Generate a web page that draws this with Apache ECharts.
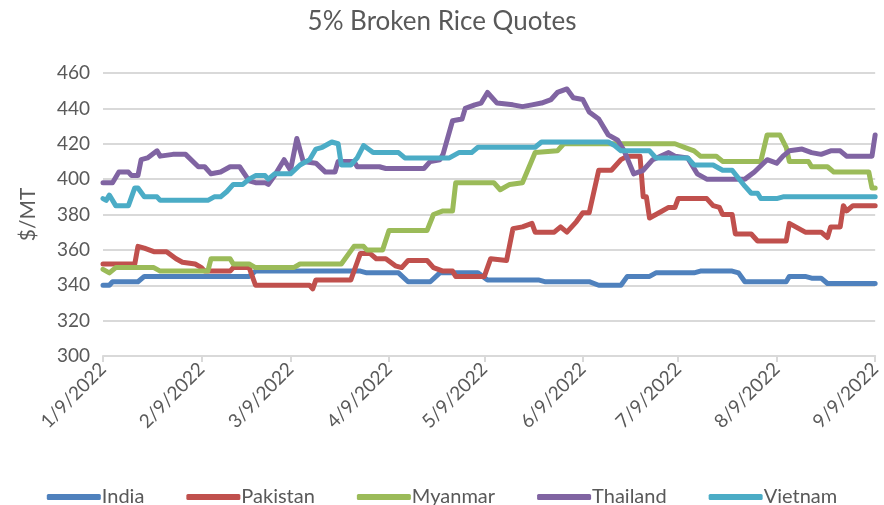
<!DOCTYPE html>
<html>
<head>
<meta charset="utf-8">
<script src="https://cdn.jsdelivr.net/npm/echarts@6/dist/echarts.min.js"></script>
<style>
  html, body { margin: 0; padding: 0; background: #fff; }
  #chart { width: 884px; height: 505px; }
</style>
</head>
<body>
<div id="chart"></div>
<script>
// tick labels on the x axis (M/D/YYYY)
const monthTicks = ['1/9/2022', '2/9/2022', '3/9/2022', '4/9/2022', '5/9/2022',
  '6/9/2022', '7/9/2022', '8/9/2022', '9/9/2022'];
const seriesNames = ['India', 'Pakistan', 'Myanmar', 'Thailand', 'Vietnam'];
const yTicks = [300, 320, 340, 360, 380, 400, 420, 440, 460];

// quote dates (M/D, 2022) and prices in $/MT
const indiaDates = ['1/9', '1/11', '1/12', '1/20', '1/22', '2/24', '2/26', '3/31', '4/2', '4/12',
  '4/15', '4/22', '4/25', '5/7', '5/10', '5/26', '5/28', '6/11', '6/14', '6/21', '6/23', '6/30',
  '7/2', '7/14', '7/16', '7/26', '7/28', '7/30', '8/12', '8/13', '8/18', '8/20', '8/23', '8/25', '9/9'];
const indiaValues = [340, 340, 342, 342, 345, 345, 348, 348, 347, 347,
  342, 342, 347, 347, 343, 343, 342, 342, 340, 340, 345, 345,
  347, 347, 348, 348, 347, 342, 342, 345, 345, 344, 344, 341, 341];

const pakistanDates = ['1/9', '1/19', '1/20', '1/22', '1/25', '1/29', '2/1', '2/3', '2/7', '2/9',
  '2/10', '2/18', '2/19', '2/24', '2/26', '3/15', '3/16', '3/17', '3/28', '3/30', '3/31', '4/3',
  '4/5', '4/8', '4/11', '4/13', '4/15', '4/21', '4/23', '4/26', '4/29', '4/30', '5/9', '5/11',
  '5/16', '5/18', '5/21', '5/24', '5/25', '5/31', '6/2', '6/4', '6/7', '6/9', '6/11', '6/14',
  '6/18', '6/21', '6/23', '6/27', '6/28', '6/29', '6/30', '7/3', '7/6', '7/8', '7/9', '7/18',
  '7/20', '7/22', '7/23', '7/26', '7/27', '8/1', '8/3', '8/12', '8/13', '8/15', '8/18', '8/23',
  '8/25', '8/26', '8/29', '8/30', '8/31', '9/2', '9/9'];
const pakistanValues = [352, 352, 362, 361, 359, 359, 355, 353, 352, 350,
  348, 348, 350, 350, 340, 340, 338, 343, 343, 353, 358, 358,
  355, 355, 351, 350, 354, 354, 350, 348, 348, 345, 345, 355,
  354, 372, 373, 375, 370, 370, 373, 370, 376, 381, 381, 405,
  405, 411, 413, 413, 390, 390, 378, 381, 384, 384, 389, 389,
  385, 384, 380, 380, 369, 369, 365, 365, 375, 373, 370, 370,
  367, 373, 373, 385, 382, 385, 385];

const myanmarDates = ['1/9', '1/11', '1/13', '1/25', '1/27', '2/11', '2/12', '2/18', '2/19', '2/24',
  '2/26', '3/10', '3/12', '3/25', '3/29', '4/1', '4/2', '4/7', '4/9', '4/21', '4/23', '4/26',
  '4/29', '4/30', '5/12', '5/14', '5/17', '5/21', '5/25', '6/1', '6/3', '7/8', '7/11', '7/14',
  '7/16', '7/21', '7/23', '8/4', '8/6', '8/10', '8/12', '8/13', '8/19', '8/20', '8/25', '8/27',
  '9/7', '9/8', '9/9'];
const myanmarValues = [349, 347, 350, 350, 348, 348, 355, 355, 352, 352,
  350, 350, 352, 352, 362, 362, 360, 360, 371, 371, 380, 382,
  382, 398, 398, 394, 397, 398, 415, 416, 420, 420, 418, 416,
  413, 413, 410, 410, 425, 425, 418, 410, 410, 407, 407, 404,
  404, 395, 395];

const thailandDates = ['1/9', '1/12', '1/14', '1/17', '1/18', '1/20', '1/21', '1/23', '1/26', '1/27',
  '1/31', '2/4', '2/8', '2/10', '2/12', '2/15', '2/18', '2/21', '2/24', '2/26', '3/1', '3/2',
  '3/4', '3/7', '3/9', '3/11', '3/13', '3/17', '3/20', '3/23', '3/24', '3/29', '3/30', '4/6',
  '4/8', '4/20', '4/22', '4/25', '4/26', '4/29', '5/2', '5/3', '5/6', '5/8', '5/10', '5/13',
  '5/18', '5/21', '5/24', '5/27', '5/30', '6/1', '6/4', '6/6', '6/9', '6/11', '6/14', '6/16',
  '6/17', '6/20', '6/22', '6/25', '6/28', '7/1', '7/6', '7/8', '7/12', '7/15', '7/18', '7/30',
  '8/2', '8/6', '8/9', '8/11', '8/13', '8/17', '8/20', '8/23', '8/26', '8/29', '8/31', '9/8', '9/9'];
const thailandValues = [398, 398, 404, 404, 402, 402, 411, 412, 416, 413,
  414, 414, 407, 407, 403, 404, 407, 407, 399, 398, 398, 397,
  402, 411, 405, 423, 410, 409, 404, 404, 410, 410, 407, 407,
  406, 406, 410, 411, 414, 433, 434, 440, 442, 443, 449, 443,
  442, 441, 442, 443, 445, 449, 451, 446, 445, 438, 434, 428,
  425, 422, 416, 403, 405, 411, 415, 413, 412, 403, 400, 400,
  404, 411, 409, 413, 416, 417, 415, 414, 416, 416, 413, 413, 425];

const vietnamDates = ['1/9', '1/10', '1/11', '1/13', '1/17', '1/19', '1/20', '1/22', '1/26', '1/27',
  '2/11', '2/13', '2/15', '2/17', '2/19', '2/22', '2/24', '2/26', '3/1', '3/2', '3/4', '3/9',
  '3/12', '3/15', '3/17', '3/19', '3/22', '3/24', '3/25', '3/28', '3/30', '4/1', '4/4', '4/12',
  '4/14', '4/28', '5/1', '5/5', '5/7', '5/25', '5/27', '6/17', '6/19', '6/21', '6/30', '7/2',
  '7/12', '7/14', '7/20', '7/23', '7/26', '7/30', '8/1', '8/3', '8/4', '8/9', '8/11', '9/9'];
const vietnamValues = [389, 388, 391, 385, 385, 395, 395, 390, 390, 388,
  388, 390, 390, 393, 397, 397, 400, 402, 402, 400, 403, 403,
  408, 411, 417, 418, 421, 420, 408, 408, 412, 419, 415, 415,
  412, 412, 415, 415, 418, 418, 421, 421, 419, 416, 416, 412,
  412, 408, 408, 405, 405, 396, 392, 392, 389, 389, 390, 390];

const colors = ['#4F81BD', '#C0504D', '#9BBB59', '#8064A2', '#4BACC6'];

function toTime(md) {
  const p = md.split('/');
  return +new Date(2022, Number(p[0]) - 1, Number(p[1]));
}

function pairs(dates, values) {
  return dates.map((d, i) => [toTime(d), values[i]]);
}

const seriesData = [
  pairs(indiaDates, indiaValues),
  pairs(pakistanDates, pakistanValues),
  pairs(myanmarDates, myanmarValues),
  pairs(thailandDates, thailandValues),
  pairs(vietnamDates, vietnamValues),
];

const tickTimes = monthTicks.map((t) => toTime(t));

const chart = echarts.init(document.getElementById('chart'));
const txt = '#595959';
const font = 'Lato, "Liberation Sans", sans-serif';

chart.setOption({
  animation: false,
  color: colors,
  textStyle: { fontFamily: font },
  title: {
    text: '5% Broken Rice Quotes',
    left: 'center',
    top: 4,
    textStyle: { color: txt, fontSize: 26, fontWeight: 'normal', fontFamily: font },
  },
  grid: {
    left: 103,
    right: 4,
    top: 73,
    bottom: 149,
  },
  legend: {
    top: 482,
    left: 'center',
    icon: 'roundRect',
    itemWidth: 54,
    itemHeight: 6,
    itemGap: 42,
    textStyle: { color: txt, fontSize: 20, fontFamily: font, padding: [0, 0, 0, -4] },
    data: seriesNames,
  },
  xAxis: {
    // dates as timestamps on a value axis, labelled at the 9th of each month
    type: 'value',
    min: tickTimes[0],
    max: tickTimes[tickTimes.length - 1],
    axisLine: { lineStyle: { color: '#d9d9d9', width: 2 } },
    axisTick: {
      show: true,
      customValues: tickTimes,
      length: 6,
      lineStyle: { color: '#d9d9d9', width: 2 },
    },
    axisLabel: {
      customValues: tickTimes,
      rotate: 45,
      color: txt,
      fontSize: 19,
      fontFamily: font,
      margin: 10,
      showMinLabel: true,
      showMaxLabel: true,
      formatter(value) {
        const d = new Date(value);
        return `${d.getMonth() + 1}/${d.getDate()}/${d.getFullYear()}`;
      },
    },
    splitLine: { show: false },
  },
  yAxis: {
    type: 'value',
    min: yTicks[0],
    max: yTicks[yTicks.length - 1],
    interval: 20,
    name: '$/MT',
    nameLocation: 'middle',
    nameGap: 64,
    nameTextStyle: { color: txt, fontSize: 21, fontFamily: font },
    axisLine: { show: false },
    axisTick: { show: false },
    axisLabel: { color: txt, fontSize: 19, fontFamily: font, margin: 13 },
    splitLine: { lineStyle: { color: '#d9d9d9', width: 2 } },
  },
  series: seriesNames.map((name, i) => ({
    name,
    type: 'line',
    data: seriesData[i],
    showSymbol: false,
    symbol: 'none',
    lineStyle: { width: 5, color: colors[i], cap: 'round', join: 'round' },
    itemStyle: { color: colors[i] },
  })),
});
</script>
</body>
</html>
